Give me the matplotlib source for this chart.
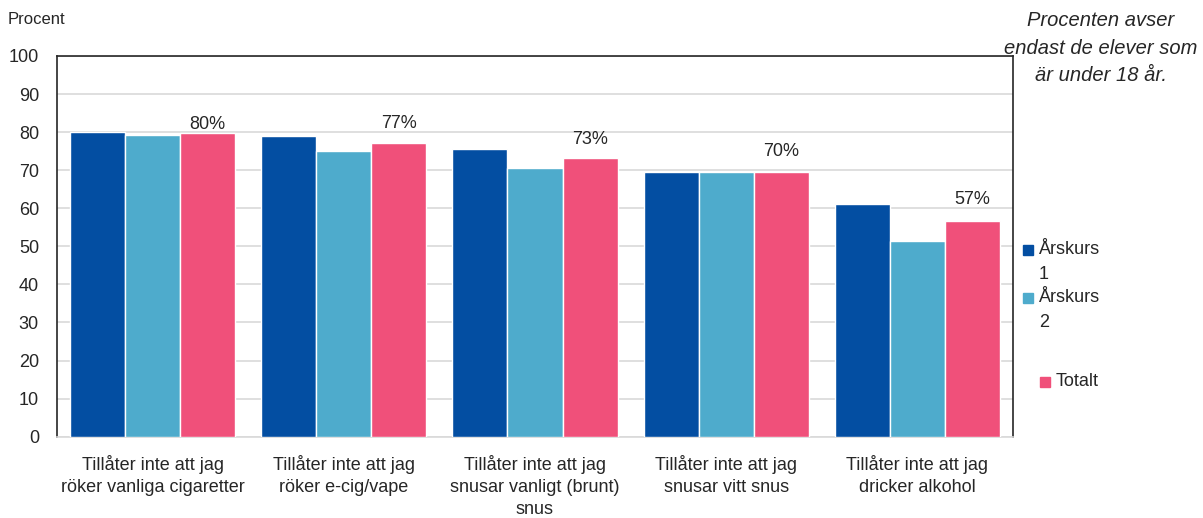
import matplotlib.pyplot as plt
from matplotlib.patches import Rectangle
import numpy as np

plt.rcParams['font.family'] = ['Liberation Sans', 'DejaVu Sans']

kategorier = ["Tillåter inte att jag\nröker vanliga cigaretter",
              "Tillåter inte att jag\nröker e-cig/vape",
              "Tillåter inte att jag\nsnusar vanligt (brunt)\nsnus",
              "Tillåter inte att jag\nsnusar vitt snus",
              "Tillåter inte att jag\ndricker alkohol"]
serier = ["Årskurs\n1", "Årskurs\n2", "Totalt"]
arskurs1 = [80.1, 78.9, 75.5, 69.5, 61.0]
arskurs2 = [79.3, 75.0, 70.7, 69.5, 51.4]
totalt = [79.7, 77.2, 73.2, 69.5, 56.6]
etiketter = ["80%", "77%", "73%", "70%", "57%"]
farger = ["#034EA2", "#4EABCC", "#F0507A"]

W, H = 1203, 518
fig = plt.figure(figsize=(W / 100, H / 100), dpi=100, facecolor='w')
ax = fig.add_axes([57 / W, (H - 436.7) / H, 956 / W, (436.7 - 56) / H])

x = np.arange(len(kategorier))
steg = 0.288
varden = [arskurs1, arskurs2, totalt]
staplar = []
for i, v in enumerate(varden):
    b = ax.bar(x + (i - 1) * steg, v, width=steg, color=farger[i],
               edgecolor='white', linewidth=1.0, zorder=3)
    staplar.append(b)

# procentetiketter över totalt-staplarna
forskjut = [9, 19, 19, 21, 22]
for rect, txt, d in zip(staplar[2], etiketter, forskjut):
    ax.annotate(txt, (rect.get_x() + rect.get_width() / 2, rect.get_height()),
                xytext=(0, d), textcoords='offset pixels',
                ha='center', va='center', fontsize=13, color='#262626')

ax.set_xlim(-0.5, len(kategorier) - 0.5)
ax.set_ylim(0, 100)
ax.set_yticks(range(0, 101, 10))
ax.set_xticks(x)
ax.set_xticklabels(kategorier, fontsize=13, color='#262626', linespacing=1.4)
ax.tick_params(axis='both', length=0, labelsize=13, colors='#262626')
ax.tick_params(axis='y', pad=13)
ax.tick_params(axis='x', pad=13)
ax.yaxis.grid(True, color='#D9D9D9', linewidth=1.2, zorder=0)
ax.set_axisbelow(True)
for s in ['left', 'top', 'right']:
    ax.spines[s].set_color('#262626')
    ax.spines[s].set_linewidth(1.2)
ax.spines['bottom'].set_color('#D9D9D9')
ax.spines['bottom'].set_linewidth(1.2)

fig.text(8 / W, 1 - 20 / H, "Procent", fontsize=12, color='#262626',
         ha='left', va='center')
fig.text(1101 / W, 1 - 48 / H, "Procenten avser\nendast de elever som\när under 18 år.",
         fontsize=14.5, style='italic', color='#262626', ha='center', va='center',
         linespacing=1.55)

# förklaring
leg_pos = [(1023, 250), (1023, 298), (1040, 382)]
for namn, f, (lx, ly) in zip(serier, farger, leg_pos):
    fig.patches.append(Rectangle((lx / W, 1 - (ly + 5) / H), 10 / W, 10 / H,
                                 transform=fig.transFigure, color=f))
    fig.text((lx + 16) / W, 1 - (ly - 9) / H, namn, fontsize=13, color='#262626',
             ha='left', va='top', linespacing=1.65)

fig.savefig("out.png", dpi=100)
